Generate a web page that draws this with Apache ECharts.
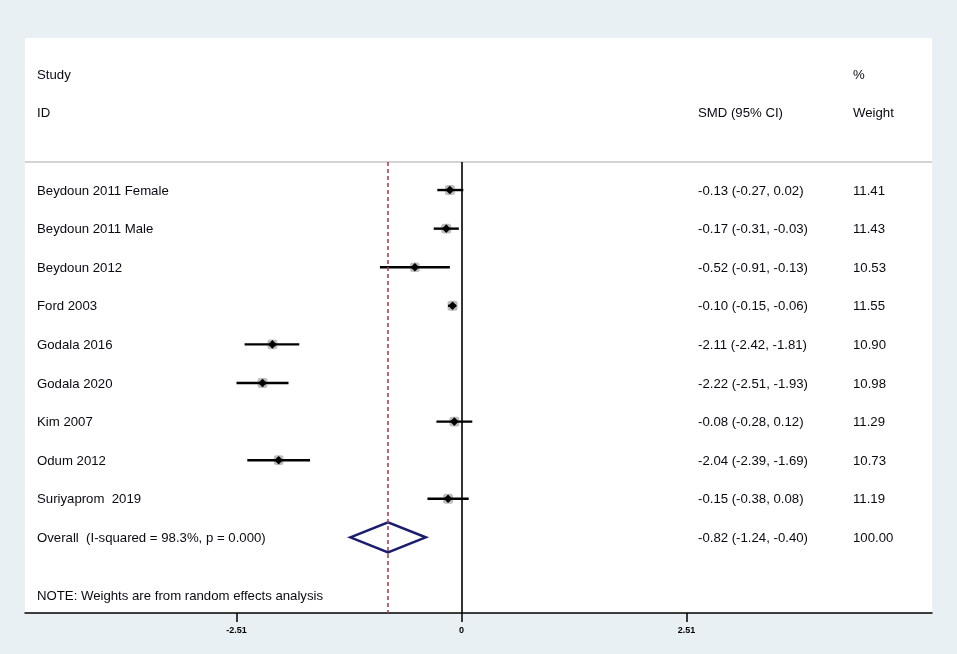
<!DOCTYPE html>
<html>
<head>
    <meta charset="utf-8">
    <title>Forest plot</title>
    <script src="https://cdn.jsdelivr.net/npm/echarts@6/dist/echarts.min.js"></script>
    <style>
        html, body { margin: 0; padding: 0; background: #e8f0f3; }
        #chart { width: 957px; height: 654px; }
    </style>
</head>
<body>
<div id="chart"></div>
<script>
    // data
    var studies = ['Beydoun 2011 Female', 'Beydoun 2011 Male', 'Beydoun 2012', 'Ford 2003', 'Godala 2016',
                   'Godala 2020', 'Kim 2007', 'Odum 2012', 'Suriyaprom  2019'];
    var smd     = [-0.13, -0.17, -0.52, -0.10, -2.11, -2.22, -0.08, -2.04, -0.15];
    var lower   = [-0.27, -0.31, -0.91, -0.15, -2.42, -2.51, -0.28, -2.39, -0.38];
    var upper   = [ 0.02, -0.03, -0.13, -0.06, -1.81, -1.93,  0.12, -1.69,  0.08];
    var weights = [11.41, 11.43, 10.53, 11.55, 10.90, 10.98, 11.29, 10.73, 11.19];
    var overall = [-0.82, -1.24, -0.40];   // estimate, lower, upper
    var overallWeight = 100.00;
    var overallLabel = 'Overall  (I-squared = 98.3%, p = 0.000)';
    var noteText = 'NOTE: Weights are from random effects analysis';
    var tickValues = [-2.51, 0, 2.51];

    var FONT = "'Liberation Sans', Arial, sans-serif";
    var rowOverall = studies.length;

    function f2(v) { return v.toFixed(2); }
    function ciText(e, l, u) { return f2(e) + ' (' + f2(l) + ', ' + f2(u) + ')'; }

    var studyRows = studies.map(function (s, i) {
        return [smd[i], i, lower[i], upper[i], weights[i]];
    });

    // text table rows: [rowIndex, left text, ci text, weight text]
    var textRows = [
        [-3, 'Study', '', '%'],
        [-2, 'ID', 'SMD (95% CI)', 'Weight']
    ];
    studies.forEach(function (s, i) {
        textRows.push([i, s, ciText(smd[i], lower[i], upper[i]), f2(weights[i])]);
    });
    textRows.push([rowOverall, overallLabel, ciText(overall[0], overall[1], overall[2]), f2(overallWeight)]);
    textRows.push([10.5, noteText, '', '']);

    var chart = echarts.init(document.getElementById('chart'));

    var option = {
        backgroundColor: '#e8f0f3',
        animation: false,
        grid: {
            left: 25, right: 25, top: 38, bottom: 41,
            show: true, backgroundColor: '#fff', borderWidth: 0
        },
        xAxis: {
            type: 'value',
            min: -4.870,
            max: 5.249,
            axisLine: { show: true, onZero: false, lineStyle: { color: '#000', width: 1.5 } },
            axisTick: { show: true, customValues: tickValues, length: 9, lineStyle: { color: '#000', width: 1.5 } },
            axisLabel: {
                customValues: tickValues,
                formatter: function (v) { return v === 0 ? '0' : v.toFixed(2); },
                fontSize: 9, fontWeight: 'bold', color: '#000', fontFamily: FONT, margin: 13
            },
            splitLine: { show: false }
        },
        yAxis: {
            type: 'value',
            inverse: true,
            min: -3.94,
            max: 10.96,
            show: false
        },
        series: [
            {
                // reference lines
                type: 'line',
                data: [],
                markLine: {
                    silent: true,
                    symbol: 'none',
                    label: { show: false },
                    data: [
                        [{ coord: [-4.870, -0.73], lineStyle: { color: '#c4c4c4', width: 1.5, type: 'solid' } },
                         { coord: [5.249, -0.73] }],
                        [{ coord: [0, -0.73], lineStyle: { color: '#000', width: 1.6, type: 'solid' } },
                         { coord: [0, 10.96] }],
                        [{ coord: [overall[0], -0.73], lineStyle: { color: '#a8444e', width: 1.6, type: [4, 3] } },
                         { coord: [overall[0], 10.96] }]
                    ]
                }
            },
            {
                // study CI lines, weight boxes, point estimates
                type: 'custom',
                data: studyRows,
                renderItem: function (params, api) {
                    var y = api.value(1);
                    var c = api.coord([api.value(0), y]);
                    var l = api.coord([api.value(2), y]);
                    var u = api.coord([api.value(3), y]);
                    var box = 10 * Math.sqrt(api.value(4) / 11.5);
                    var d = 4.3;
                    return {
                        type: 'group',
                        children: [
                            { type: 'rect', shape: { x: c[0] - box / 2, y: c[1] - box / 2, width: box, height: box, r: 2.5 },
                              style: { fill: '#bdbdbd' } },
                            { type: 'line', shape: { x1: l[0], y1: l[1], x2: u[0], y2: u[1] },
                              style: { stroke: '#000', lineWidth: 2.4 } },
                            { type: 'polygon', shape: { points: [[c[0] - d, c[1]], [c[0], c[1] - d], [c[0] + d, c[1]], [c[0], c[1] + d]] },
                              style: { fill: '#000' } }
                        ]
                    };
                }
            },
            {
                // overall diamond
                type: 'custom',
                data: [[overall[0], rowOverall, overall[1], overall[2]]],
                renderItem: function (params, api) {
                    var y = api.value(1);
                    var c = api.coord([api.value(0), y]);
                    var l = api.coord([api.value(2), y]);
                    var u = api.coord([api.value(3), y]);
                    var h = 15;
                    return {
                        type: 'polygon',
                        shape: { points: [[l[0], l[1]], [c[0], c[1] - h], [u[0], u[1]], [c[0], c[1] + h]] },
                        style: { fill: 'none', stroke: '#1c1c6e', lineWidth: 2.6 }
                    };
                }
            },
            {
                // text columns
                type: 'custom',
                data: textRows,
                renderItem: function (params, api) {
                    var row = textRows[params.dataIndex];
                    var y = api.coord([0, row[0]])[1] + 1;
                    var st = function (t, x) {
                        return { type: 'text', x: x, y: y,
                                 style: { text: t, fill: '#0a0a14', font: '13.2px ' + FONT, textVerticalAlign: 'middle', textAlign: 'left' } };
                    };
                    return { type: 'group', children: [st(row[1], 37), st(row[2], 698), st(row[3], 853)] };
                }
            }
        ]
    };

    chart.setOption(option);
</script>
</body>
</html>
